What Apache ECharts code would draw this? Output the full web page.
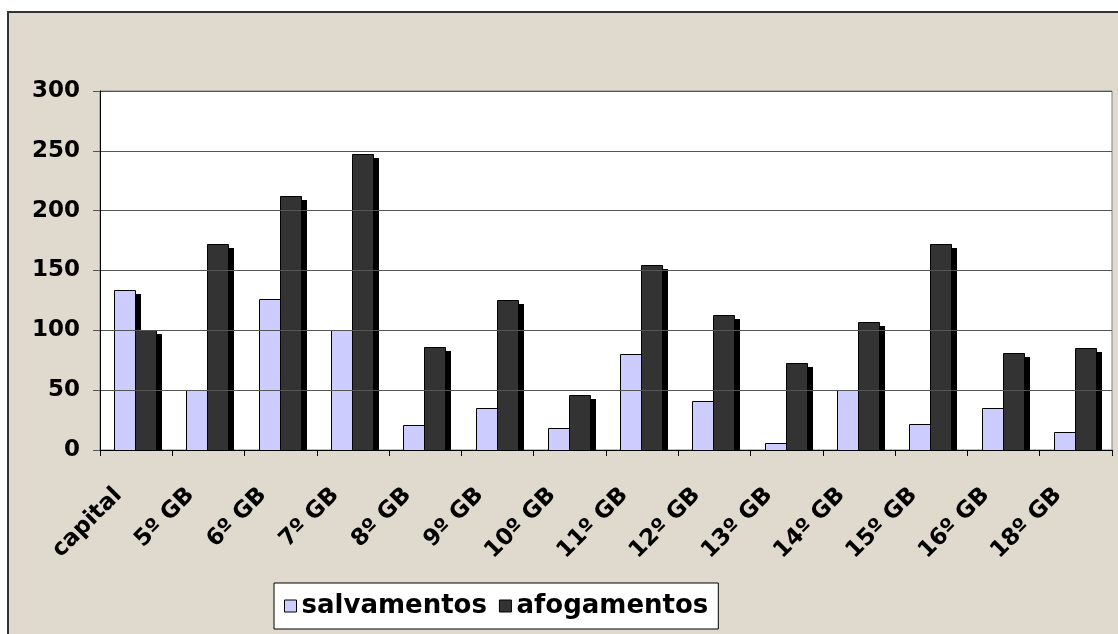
<!DOCTYPE html>
<html>
<head>
<meta charset="utf-8">
<script src="https://cdn.jsdelivr.net/npm/echarts@6.0.0/dist/echarts.min.js"></script>
<style>
  html, body { margin: 0; padding: 0; background: #fff; }
  #frame {
    position: absolute; left: 7px; top: 11px; width: 1200px; height: 700px;
    border: 2px solid #333; background: #e0d9cd;
  }
  #chart { position: absolute; left: 0; top: 0; width: 1118px; height: 634px; }
</style>
</head>
<body>
<div id="frame"></div>
<div id="chart"></div>
<script>
// categories on the x axis
var categories = ['capital', '5º GB', '6º GB', '7º GB', '8º GB', '9º GB', '10º GB',
  '11º GB', '12º GB', '13º GB', '14º GB', '15º GB', '16º GB', '18º GB']
// values
var salvamentos = [134, 50, 126, 100, 21, 35, 18, 80, 41, 6, 50, 22, 35, 15]
var afogamentos = [100, 172, 212, 247, 86, 125, 46, 155, 113, 73, 107, 172, 81, 85]
var yTicks = [0, 50, 100, 150, 200, 250, 300]

var font = '"DejaVu Sans", Arial, sans-serif'
var BAR_W = 21
var chart = echarts.init(document.getElementById('chart'))

// bar with a hard black drop shadow (like the old excel 3d-ish look)
function shadowBar(name, color, values, offset) {
  return {
    name: name,
    type: 'custom',
    clip: true,
    z: 2,
    itemStyle: { color: color },
    encode: { x: 0, y: 1 },
    data: values.map(function(v, i) { return [i, v] }),
    renderItem: function(params, api) {
      var top = api.coord([api.value(0), api.value(1)])
      var base = api.coord([api.value(0), 0])
      var x = Math.round(top[0] + offset)
      var y = Math.round(top[1])
      var h = Math.round(base[1]) - y
      return {
        type: 'group',
        children: [
          {
            type: 'rect',
            shape: { x: x + 6, y: y + 4, width: BAR_W, height: Math.max(h - 4, 0) },
            style: { fill: '#000' }
          },
          {
            type: 'rect',
            shape: { x: x + 0.5, y: y + 0.5, width: BAR_W, height: h },
            style: { fill: color, stroke: '#000', lineWidth: 1 }
          }
        ]
      }
    }
  }
}

chart.setOption({
  animation: false,
  grid: {
    left: 100,
    right: 6,
    top: 91,
    bottom: 184,
    show: true,
    backgroundColor: '#fff',
    borderColor: '#808080',
    borderWidth: 1
  },
  legend: {
    left: 274,
    top: 583,
    data: ['salvamentos', 'afogamentos'],
    backgroundColor: '#fff',
    borderColor: '#000',
    borderWidth: 1,
    padding: [10, 10],
    itemGap: 12,
    itemWidth: 12,
    itemHeight: 12,
    icon: 'rect',
    itemStyle: { borderColor: '#000', borderWidth: 1 },
    textStyle: { fontFamily: font, fontWeight: 'bold', fontSize: 26, color: '#000' }
  },
  xAxis: {
    type: 'category',
    data: categories,
    z: 5,
    axisLine: { lineStyle: { color: '#000', width: 1 } },
    axisTick: { show: true, length: 6, lineStyle: { color: '#000', width: 1 } },
    axisLabel: {
      rotate: 45,
      interval: 0,
      margin: 24,
      padding: [0, 25, 0, 0],
      color: '#000',
      fontFamily: font,
      fontWeight: 'bold',
      fontSize: 23
    }
  },
  yAxis: {
    type: 'value',
    min: yTicks[0],
    max: yTicks[yTicks.length - 1],
    interval: 50,
    z: 5,
    axisLine: { show: true, lineStyle: { color: '#000', width: 1 } },
    axisTick: { show: true, length: 7, lineStyle: { color: '#555' } },
    splitLine: { lineStyle: { color: '#555', width: 1 } },
    axisLabel: {
      margin: 20,
      color: '#000',
      fontFamily: font,
      fontWeight: 'bold',
      fontSize: 23
    }
  },
  series: [
    shadowBar('salvamentos', '#ccccff', salvamentos, -BAR_W - 1),
    shadowBar('afogamentos', '#333333', afogamentos, -1)
  ]
})
</script>
</body>
</html>
